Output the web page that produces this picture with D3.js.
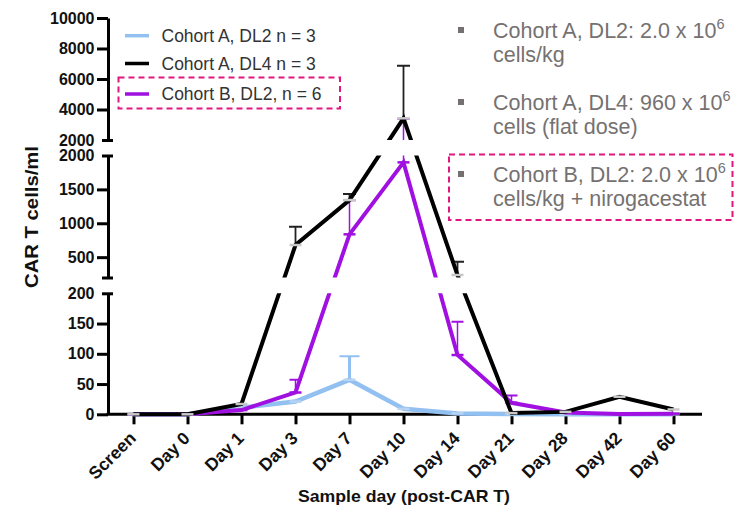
<!DOCTYPE html>
<html>
<head>
<meta charset="utf-8">
<script src="https://cdn.jsdelivr.net/npm/d3@7"></script>
<style>
  html, body { margin: 0; padding: 0; background: #fff; }
  svg { display: block; }
  text { font-family: "Liberation Sans", Arial, sans-serif; }
</style>
</head>
<body>
<svg id="chart" width="735" height="506"></svg>
<script>
// ---------------- DATA ----------------
const categories = ["Screen", "Day 0", "Day 1", "Day 3", "Day 7", "Day 10", "Day 14", "Day 21", "Day 28", "Day 42", "Day 60"];

const cohortA_DL2 = [0, 0, 11, 21, 57, 9, 1.5, 0.5, 0, 0, 0];
const cohortA_DL2_errUpper = [null, null, null, null, 96, null, null, null, null, null, null];

const cohortA_DL4 = [0, 0, 17, 679, 1343, 3423, 237, 2, 4, 29, 8];
const cohortA_DL4_errUpper = [null, null, null, 949, 1431, 6872, 433, null, null, null, null];

const cohortB_DL2 = [0, 0, 7, 36, 837, 1899, 98, 19, 3, 0.5, 1];
const cohortB_DL2_errUpper = [null, null, null, 57, 1340, 3400, 153, 31, null, null, null];

const seriesNames = ["Cohort A, DL2 n = 3", "Cohort A, DL4 n = 3", "Cohort B, DL2, n = 6"];
const seriesColors = ["#92c0f0", "#000000", "#a010e0"];

const bottomTicks = [0, 50, 100, 150, 200];
const middleTicks = [200, 500, 1000, 1500, 2000];
const topTicks = [2000, 4000, 6000, 8000, 10000];

const annotationTitles = ["Cohort A, DL2: 2.0 x 10", "Cohort A, DL4: 960 x 10", "Cohort B, DL2: 2.0 x 10"];
const annotationSups = ["6", "6", "6"];
const annotationSecond = ["cells/kg", "cells (flat dose)", "cells/kg + nirogacestat"];

const xTitle = "Sample day (post-CAR T)";
const yTitle = "CAR T cells/ml";

// ---------------- LAYOUT ----------------
const svg = d3.select("#chart");
const axisX = 108, axisY = 414.3;

const x = d3.scalePoint().domain(categories).range([106.5, 700.5]).padding(0.5);

const yBot = d3.scaleLinear().domain([0, 200]).range([414.3, 293.3]);
const yMid = d3.scaleLinear().domain([200, 2000]).range([277.5, 155.5]);
const yTop = d3.scaleLinear().domain([2000, 10000]).range([140, 18]);
function y(v) { return v <= 200 ? yBot(v) : (v <= 2000 ? yMid(v) : yTop(v)); }

// clip for broken axis segments
const defs = svg.append("defs");
const cp = defs.append("clipPath").attr("id", "segs");
[[yTop, 0, 0], [yMid, 0, 0], [yBot, 0, 8]].forEach(([s, padT, padB]) => {
  const r = s.range();
  cp.append("rect").attr("x", 0).attr("width", 735)
    .attr("y", r[1] - padT).attr("height", r[0] - r[1] + padT + padB);
});

// ---------------- AXES ----------------
function styleAxis(g) {
  g.select(".domain").attr("stroke", "#000").attr("stroke-width", 3);
  g.selectAll(".tick line").attr("stroke", "#000").attr("stroke-width", 3);
  g.selectAll(".tick text").attr("fill", "#111").attr("font-weight", "bold")
    .attr("font-size", "16px").attr("font-family", "'Liberation Sans', Arial, sans-serif");
}
const segs = [
  { s: yTop, ticks: topTicks, caps: [2000], blank: [] },
  { s: yMid, ticks: middleTicks, caps: [200, 2000], blank: [200] },
  { s: yBot, ticks: bottomTicks, caps: [200], blank: [] }
];
segs.forEach(seg => {
  const g = svg.append("g").attr("transform", `translate(${axisX},0)`)
    .call(d3.axisLeft(seg.s).tickValues(seg.ticks).tickSize(11).tickSizeOuter(0).tickPadding(2.5)
      .tickFormat(d => seg.blank.includes(d) ? "" : d3.format("d")(d)));
  styleAxis(g);
  g.selectAll(".tick").filter(d => seg.caps.includes(d)).select("line")
    .attr("x1", -6).attr("x2", 5);
});

const gx = svg.append("g").attr("transform", `translate(0,${axisY})`)
  .call(d3.axisBottom(x).tickSize(10).tickSizeOuter(0));
styleAxis(gx);
gx.select(".domain").attr("d", `M${axisX - 1.5},0H702`);
gx.selectAll(".tick text")
  .attr("x", 0).attr("y", 0).attr("dy", 0)
  .attr("text-anchor", "end")
  .attr("font-size", "17.5px")
  .attr("transform", "translate(3,25) rotate(-45)");

// titles
svg.append("text").attr("x", 404).attr("y", 502).attr("text-anchor", "middle")
  .attr("font-weight", "bold").attr("font-size", "17px").attr("fill", "#111")
  .attr("textLength", 212).attr("lengthAdjust", "spacingAndGlyphs").text(xTitle);
svg.append("text").attr("transform", "translate(37.5,217) rotate(-90)").attr("text-anchor", "middle")
  .attr("font-weight", "bold").attr("font-size", "18px").attr("fill", "#111")
  .attr("textLength", 142).attr("lengthAdjust", "spacingAndGlyphs").text(yTitle);

// ---------------- SERIES ----------------
const series = [
  { vals: cohortA_DL2, err: cohortA_DL2_errUpper, color: seriesColors[0], lw: 4.5, ew: 3, cw: 20, marker: "#b8d4f2" },
  { vals: cohortB_DL2, err: cohortB_DL2_errUpper, color: seriesColors[2], lw: 4, ew: 1.5, cw: 12, marker: "#a010e0" },
  { vals: cohortA_DL4, err: cohortA_DL4_errUpper, color: seriesColors[1], lw: 4, ew: 1.8, cw: 13, marker: "#c8c8c8" }
];
const plot = svg.append("g").attr("clip-path", "url(#segs)");
const line = d3.line().x((d, i) => x(categories[i])).y(d => y(d));

series.forEach(s => {
  const g = plot.append("g");
  const eb = s.err.map((e, i) => ({ e, v: s.vals[i], c: categories[i] })).filter(d => d.e != null);
  g.selectAll("line.eb").data(eb).join("line").attr("class", "eb")
    .attr("x1", d => x(d.c)).attr("x2", d => x(d.c))
    .attr("y1", d => y(d.v)).attr("y2", d => y(d.e))
    .attr("stroke", s.color === "#000000" ? "#222" : s.color).attr("stroke-width", s.ew);
  g.selectAll("line.cap").data(eb).join("line").attr("class", "cap")
    .attr("x1", d => x(d.c) - s.cw / 2).attr("x2", d => x(d.c) + s.cw / 2)
    .attr("y1", d => y(d.e)).attr("y2", d => y(d.e))
    .attr("stroke", s.color === "#000000" ? "#222" : s.color).attr("stroke-width", 2);
  g.append("path").datum(s.vals).attr("d", line).attr("fill", "none")
    .attr("stroke", s.color).attr("stroke-width", s.lw).attr("stroke-linejoin", "miter");
  g.selectAll("rect.mk").data(s.vals).join("rect").attr("class", "mk")
    .attr("x", (d, i) => x(categories[i]) - 6).attr("y", d => y(d) - 1.25)
    .attr("width", 12).attr("height", 2.5).attr("fill", s.marker);
});

// ---------------- LEGEND ----------------
const legendY = [35.7, 63.5, 94];
const lg = svg.append("g");
seriesNames.forEach((n, i) => {
  lg.append("line").attr("x1", 125).attr("x2", 149).attr("y1", legendY[i]).attr("y2", legendY[i])
    .attr("stroke", seriesColors[i]).attr("stroke-width", 3.5);
  lg.append("text").attr("x", 161.5).attr("y", legendY[i] + 6).attr("font-size", "17.5px")
    .attr("fill", "#333").text(n);
});
lg.append("rect").attr("x", 118.5).attr("y", 77.5).attr("width", 221.5).attr("height", 31)
  .attr("fill", "none").attr("stroke", "#e2167f").attr("stroke-width", 2).attr("stroke-dasharray", "6,4");

// ---------------- ANNOTATIONS ----------------
const annBase = [38, 110, 182];
const ag = svg.append("g");
annotationTitles.forEach((t, i) => {
  ag.append("rect").attr("x", 458).attr("y", annBase[i] - 11).attr("width", 6).attr("height", 6).attr("fill", "#767171");
  const tx = ag.append("text").attr("x", 493).attr("y", annBase[i]).attr("font-size", "21.5px").attr("fill", "#767171");
  tx.append("tspan").text(t);
  tx.append("tspan").attr("dy", -9).attr("font-size", "14.5px").text(annotationSups[i]);
  ag.append("text").attr("x", 493).attr("y", annBase[i] + 24).attr("font-size", "21.5px").attr("fill", "#767171")
    .text(annotationSecond[i]);
});
ag.append("rect").attr("x", 449).attr("y", 154.5).attr("width", 283.5).attr("height", 65.5)
  .attr("fill", "none").attr("stroke", "#e2167f").attr("stroke-width", 2).attr("stroke-dasharray", "6,4");
</script>
</body>
</html>
